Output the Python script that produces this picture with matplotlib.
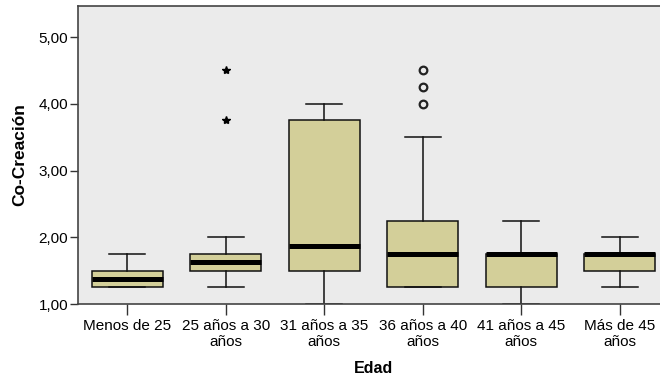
import matplotlib.pyplot as plt

plt.rcParams['font.family'] = ['Liberation Sans', 'DejaVu Sans']

# data
grupos = ["Menos de 25", "25 años a 30\naños", "31 años a 35\naños",
          "36 años a 40\naños", "41 años a 45\naños", "Más de 45\naños"]
bigote_bajo = [1.25, 1.25, 1.00, 1.25, 1.00, 1.25]
q1 = [1.25, 1.50, 1.50, 1.25, 1.25, 1.50]
mediana = [1.375, 1.625, 1.875, 1.75, 1.75, 1.75]
q3 = [1.50, 1.75, 3.75, 2.25, 1.75, 1.75]
bigote_alto = [1.75, 2.00, 4.00, 3.50, 2.25, 2.00]
extremos = {2: [3.75, 4.50]}          # stars
atipicos = {4: [4.00, 4.25, 4.50]}    # circles

fig = plt.figure(figsize=(6.6, 3.75), dpi=100)
ax = fig.add_axes([78 / 660, 71 / 375, 591 / 660, 298 / 375])
ax.set_facecolor('#ebebeb')

stats = []
for i in range(len(grupos)):
    stats.append(dict(whislo=bigote_bajo[i], q1=q1[i], med=mediana[i],
                      q3=q3[i], whishi=bigote_alto[i], fliers=[]))

ax.bxp(stats, positions=range(1, 7), widths=0.72, capwidths=0.37,
       showfliers=False, patch_artist=True,
       boxprops=dict(facecolor='#d3cf99', edgecolor='#111111', linewidth=1.1),
       medianprops=dict(color='black', linewidth=3.6, solid_capstyle='butt'),
       whiskerprops=dict(color='#111111', linewidth=1.1),
       capprops=dict(color='#111111', linewidth=1.1))

for k, vals in extremos.items():
    ax.plot([k] * len(vals), vals, linestyle='none', marker='*',
            color='black', markersize=6)
for k, vals in atipicos.items():
    ax.plot([k] * len(vals), vals, linestyle='none', marker='o',
            markerfacecolor='none', markeredgecolor='#222222',
            markeredgewidth=1.6, markersize=5.5)

ax.set_xlim(0.5, 6.5)
ax.set_ylim(1.0, 5.465)
ax.set_yticks([1, 2, 3, 4, 5])
ax.set_yticklabels(["1,00", "2,00", "3,00", "4,00", "5,00"])
ax.set_xticks(range(1, 7))
ax.set_xticklabels(grupos, linespacing=1.15)
ax.tick_params(axis='y', length=6, width=1, labelsize=11, pad=1,
               colors='#333333', labelcolor='black')
ax.tick_params(axis='x', length=8, width=1, labelsize=11, pad=3,
               colors='#333333', labelcolor='black')
for s in ax.spines.values():
    s.set_color('#444444')
    s.set_linewidth(1.2)

ax.set_ylabel("Co-Creación", fontsize=12.5, fontweight='bold', labelpad=8)
ax.set_xlabel("Edad", fontsize=11.5, fontweight='bold', labelpad=9)

fig.savefig('out.png', dpi=100, facecolor='white')
